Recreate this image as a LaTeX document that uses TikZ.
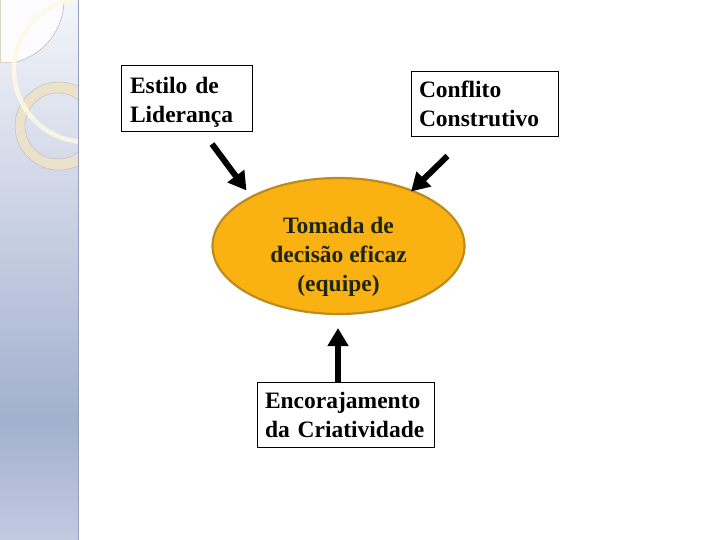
\documentclass[tikz,border=0pt]{standalone}
\usepackage{fontspec}
\setmainfont{Liberation Serif}[Ligatures=NoCommon]
\usepackage{xcolor}
\usepackage{tikz}
\usetikzlibrary{arrows.meta,shapes.geometric}
\definecolor{barlight}{RGB}{244,245,250}
\definecolor{bardark}{RGB}{162,176,207}
\definecolor{barlow}{RGB}{194,202,225}
\definecolor{ringbeige}{RGB}{236,226,203}
\definecolor{ringcream}{RGB}{255,249,228}
\definecolor{decfill}{RGB}{249,178,18}
\definecolor{decedge}{RGB}{190,140,30}
\definecolor{dectext}{RGB}{30,38,16}

\begin{document}
\begin{tikzpicture}[x=1pt, y=-1pt,
  every node/.style={font=\fontsize{23.5}{29}\selectfont\bfseries},
  caixa/.style={draw=black, line width=0.9pt, fill=white, align=left, inner ysep=0pt},
  pfeil/.style={line width=6pt, -{Triangle[length=18pt,width=20pt]}}]
\useasboundingbox (0,0) rectangle (720,540);
\fill[white] (0,0) rectangle (720,540);
% ---- side bar
\shade[top color=barlight, bottom color=bardark] (0,0) rectangle (78,421);
\shade[top color=bardark, bottom color=barlow] (0,420) rectangle (78,540);
\draw[bardark!90!black, line width=0.4pt] (78,0) -- (78,540);
\begin{scope}
\clip (0,0) rectangle (77.8,540);
\begin{scope}
\clip (0,0) rectangle (64,63);
\fill[white!75!barlight] (0,0) circle[radius=64pt];
\draw[gray!70, line width=0.4pt] (0,0) circle[radius=64pt];
\end{scope}
\draw[ringbeige!85!gray, line width=1pt] (12,63) -- (0,63) -- (0,0) -- (64,0);
\fill[ringbeige, even odd rule] (59,126) circle[radius=44pt] (58,126) circle[radius=33pt];
\draw[gray!55, line width=0.4pt] (59,126) circle[radius=44pt] (58,126) circle[radius=33pt];
\draw[ringcream, opacity=0.85, line width=4.5pt] (86,70) circle[radius=72pt];
\end{scope}
% ---- boxes
\node[caixa, text width=113pt, inner xsep=9pt, minimum height=66pt] (lider) at (186.5,98) {\rule{0pt}{24pt}Estilo de\\Liderança};
\node[caixa, text width=131pt, inner xsep=8pt, minimum height=65pt] (conflito) at (484.5,103.5) {Conflito\\Construtivo};
\node[caixa, text width=161pt, inner xsep=8pt, minimum height=65pt] (criatividade) at (345.5,414.5) {Encorajamento\\da Criatividade};
\node[ellipse, draw=decedge, line width=2.2pt, fill=decfill, minimum width=252pt, minimum height=136pt] (decisao) at (338.5,246) {};
\node[text=dectext, align=center] (decisao-txt) at (338.5,257) {Tomada de\\decisão eficaz\\(equipe)};
% ---- arrows
\coordinate (lider-a) at (212,144);
\coordinate (lider-b) at (246.5,190.5);
\coordinate (conflito-a) at (447.5,156);
\coordinate (conflito-b) at (411,191.5);
\coordinate (criatividade-a) at (338,382);
\coordinate (criatividade-b) at (338,328);
\draw[pfeil] (lider-a) -- (lider-b);
\draw[pfeil] (conflito-a) -- (conflito-b);
\draw[pfeil] (criatividade-a) -- (criatividade-b);
\end{tikzpicture}
\end{document}
